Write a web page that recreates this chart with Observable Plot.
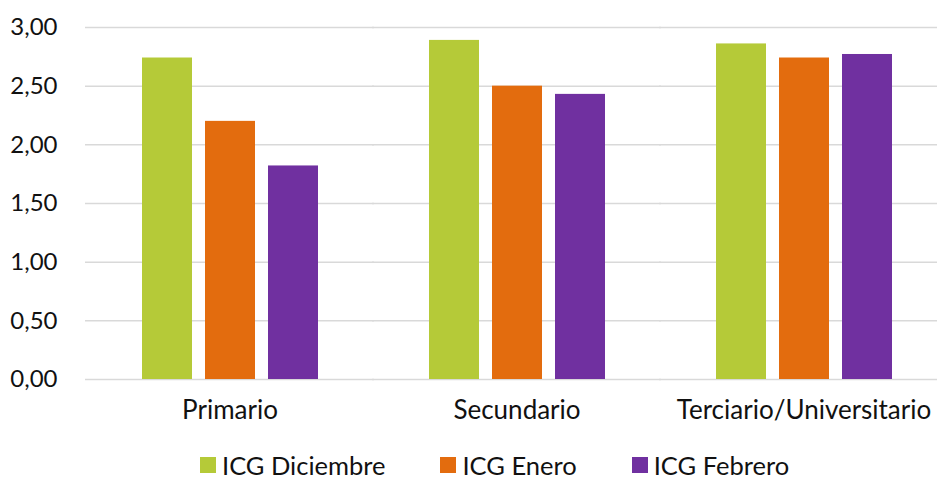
<!DOCTYPE html>
<html>
<head>
<meta charset="utf-8">
<script src="https://cdn.jsdelivr.net/npm/d3@7"></script>
<script src="https://cdn.jsdelivr.net/npm/@observablehq/plot@0.6"></script>
<style>
  html, body { margin: 0; padding: 0; background: #fff; overflow: hidden; }
  #chart { width: 937px; height: 479px; position: relative; overflow: hidden; font-family: Lato, "Liberation Sans", sans-serif; }
  #chart svg { overflow: hidden; }
  .legend { display: flex; align-items: center; box-sizing: border-box; height: 39px; padding-top: 12px; padding-bottom: 1px; padding-left: 200px; font-size: 25.5px; line-height: 26px; color: #111; }
  .legend .item { display: flex; align-items: center; margin-right: 55px; }
  .legend .sw { width: 16px; height: 16px; margin-right: 6px; }
</style>
</head>
<body>
<div id="chart"></div>
<script>
const categories = ["Primario", "Secundario", "Terciario/Universitario"];
const series = ["ICG Diciembre", "ICG Enero", "ICG Febrero"];
const diciembre = [2.74, 2.89, 2.86];
const enero = [2.20, 2.50, 2.74];
const febrero = [1.82, 2.43, 2.77];
const yTicks = [0, 0.5, 1, 1.5, 2, 2.5, 3];
const colors = ["#B5CA38", "#E36C0E", "#7030A0"];

const valuesBySeries = [diciembre, enero, febrero];
const data = [];
categories.forEach((c, i) => {
  series.forEach((s, j) => data.push({category: c, series: s, value: valuesBySeries[j][i]}));
});

const fmt = d => d.toFixed(2).replace(".", ",");

const plot = Plot.plot({
  width: 937,
  height: 440,
  marginLeft: 86,
  marginRight: 0,
  marginTop: 27,
  marginBottom: 61,
  style: {fontFamily: "Lato, 'Liberation Sans', sans-serif", fontSize: "24px", color: "#111", background: "#fff"},
  fx: {domain: categories, range: [85, 947], paddingInner: 0.384, paddingOuter: 0.19, label: null},
  x: {domain: series, paddingInner: 0.21, paddingOuter: 0, axis: null},
  y: {domain: [0, 3], ticks: yTicks, label: null},
  color: {domain: series, range: colors},
  marks: [
    Plot.ruleY(yTicks, {stroke: "#d9d9d9", strokeWidth: 1.5, insetLeft: -56, insetRight: -56}),
    Plot.barY(data, {fx: "category", x: "series", y: "value", fill: "series"}),
    Plot.axisY({ticks: yTicks, tickFormat: fmt, tickSize: 0, tickPadding: 84, fontSize: 24, label: null}),
    Plot.axisFx({anchor: "bottom", tickSize: 0, tickPadding: 21, fontSize: 26, label: null})
  ]
});
document.getElementById("chart").appendChild(plot);

const legend = document.createElement("div");
legend.className = "legend";
series.forEach((s, i) => {
  const it = document.createElement("div");
  it.className = "item";
  const sw = document.createElement("span");
  sw.className = "sw";
  sw.style.background = colors[i];
  const t = document.createElement("span");
  t.textContent = s;
  it.appendChild(sw);
  it.appendChild(t);
  legend.appendChild(it);
});
document.getElementById("chart").appendChild(legend);
</script>
</body>
</html>
